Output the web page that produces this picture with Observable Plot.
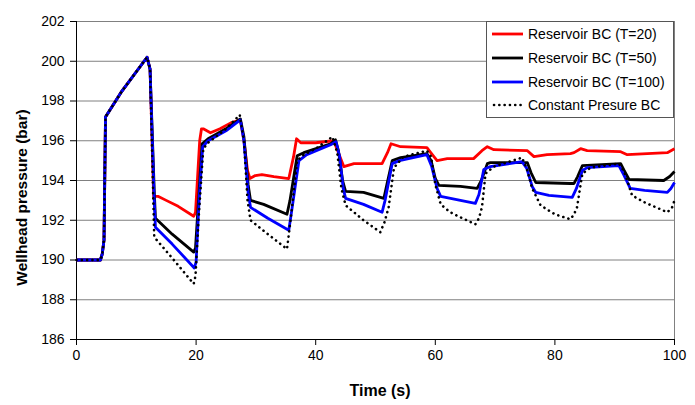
<!DOCTYPE html>
<html>
<head>
<meta charset="utf-8">
<script src="https://cdn.jsdelivr.net/npm/d3@7"></script>
<script src="https://cdn.jsdelivr.net/npm/@observablehq/plot@0.6"></script>
<style>
  html, body { margin: 0; padding: 0; background: #fff; }
  #wrap { position: relative; width: 695px; height: 405px; font-family: "Liberation Sans", Arial, sans-serif; }
  #legend { position: absolute; left: 486px; top: 21px; width: 186px; height: 95px; border: 1px solid #555; background: #fff; box-sizing: content-box; }
  .row { position: absolute; left: 0; height: 20px; display: flex; align-items: center; font-size: 14px; color: #000; white-space: nowrap; }
  .row svg { margin-left: 5px; margin-right: 5px; }
</style>
</head>
<body>
<div id="wrap"></div>
<script>
// ---- data ----
const xTicks = [0, 20, 40, 60, 80, 100];
const yTicks = [186, 188, 190, 192, 194, 196, 198, 200, 202];
const seriesNames = ["Reservoir BC (T=20)", "Reservoir BC (T=50)", "Reservoir BC (T=100)", "Constant Presure BC"];

const resT20 = [[0,190],[4,190],[4.3,190.3],[4.6,191],[4.85,197.2],[7.6,198.5],[11.8,200.2],[12.3,199.6],[12.9,193.2],[13.7,193.2],[15,193.0],[17,192.7],[19.6,192.2],[19.9,192.4],[20.6,196.0],[20.9,196.6],[21.2,196.6],[22.4,196.4],[24,196.6],[25.8,196.9],[27.4,197.05],[28.0,196.0],[28.6,194.5],[29.0,194.1],[29.9,194.25],[31,194.3],[33,194.2],[35.5,194.1],[36.3,195.2],[36.8,196.1],[37.5,195.9],[40,195.9],[43,196.0],[43.8,195.4],[44.7,194.7],[46.4,194.85],[51.1,194.85],[52.0,195.4],[52.6,195.85],[54.2,195.7],[58.6,195.65],[59.5,195.3],[60.3,195.0],[62,195.1],[66.4,195.1],[67.8,195.5],[68.7,195.7],[69.8,195.55],[75.4,195.5],[76.5,195.2],[78.7,195.3],[82.6,195.35],[83.2,195.4],[84.3,195.6],[85.4,195.5],[91,195.45],[92.1,195.3],[98.8,195.4],[100,195.6]];

const resT50 = [[0,190],[4,190],[4.3,190.3],[4.6,191],[4.85,197.2],[7.6,198.5],[11.8,200.2],[12.3,199.6],[13.0,193.5],[13.2,192.1],[16,191.3],[19.6,190.4],[19.9,190.6],[20.4,193],[21.0,195.85],[22,196.1],[25,196.6],[27.4,197.1],[28.0,196.2],[28.7,193.8],[29.1,193.0],[31.3,192.8],[35.2,192.3],[35.7,193],[36.9,195.25],[38,195.4],[42.5,195.85],[43.3,196.05],[43.8,195.5],[44.5,194],[45,193.45],[48,193.4],[51.4,193.1],[51.9,193.8],[52.8,195.0],[54.2,195.15],[58.6,195.35],[59.3,195],[60.0,194.1],[60.6,193.75],[64.2,193.7],[67,193.6],[67.7,194],[68.7,194.85],[69.2,194.9],[75.4,194.9],[76.0,194.4],[76.8,193.9],[82.6,193.85],[83.2,193.85],[83.8,194.2],[84.6,194.75],[91,194.85],[91.6,194.5],[92.4,194.05],[98.2,194.0],[99.2,194.2],[100,194.45]];

const resT100 = [[0,190],[4,190],[4.3,190.3],[4.6,191],[4.85,197.2],[7.6,198.5],[11.8,200.2],[12.3,199.6],[13.0,193.0],[13.2,191.65],[16,190.8],[19.7,189.6],[20.0,189.9],[20.5,193],[21.1,195.7],[22,196.0],[25,196.5],[27.4,197.05],[28.0,196.0],[28.7,193.4],[29.1,192.65],[32,192.1],[35.5,191.5],[36.0,192.5],[37.2,195.0],[38.5,195.3],[42.5,195.8],[43.4,195.95],[44.0,195.2],[44.6,193.6],[45,193.1],[48,192.8],[51.1,192.4],[51.6,193],[52.8,194.85],[54,195.0],[58.6,195.3],[59.4,194.7],[60.3,193.6],[60.9,193.2],[64.2,193.0],[66.7,192.85],[67.3,193.3],[68.1,194.55],[69.2,194.7],[74.5,194.95],[75.3,194.6],[76.2,193.7],[76.8,193.4],[79,193.25],[82.9,193.15],[83.6,193.6],[84.6,194.5],[85.4,194.65],[90.7,194.75],[91.5,194.3],[92.6,193.6],[95,193.5],[98.8,193.4],[99.4,193.6],[100,193.9]];

const constP = [[0,190],[4,190],[4.3,190.3],[4.6,191],[4.85,197.2],[7.6,198.5],[11.8,200.2],[12.3,199.6],[12.8,193.5],[13.0,191.15],[16,190.1],[19.6,188.8],[19.9,189.2],[20.4,192],[21.2,195.6],[22,195.9],[25,196.6],[27.3,197.3],[28.0,196.0],[28.6,193.0],[29.1,192.0],[32,191.3],[35.2,190.55],[35.8,192.0],[36.9,195.0],[38,195.3],[40,195.6],[42.8,196.2],[43.6,195.4],[44.3,193.6],[45,192.75],[48,192.0],[50.8,191.4],[51.5,191.9],[52.2,192.65],[53.1,194.65],[54.7,195.2],[58.6,195.5],[59.3,195.2],[60.0,193.8],[60.9,192.8],[62.5,192.4],[64.2,192.15],[66.7,191.8],[67.3,192.1],[67.8,192.65],[68.4,194.35],[69.8,194.7],[74.5,195.15],[75.3,194.6],[76.2,193.6],[77.6,192.75],[80,192.3],[82.6,192.05],[83.2,192.3],[83.7,192.65],[84.6,194.35],[86,194.65],[90.7,194.85],[91.5,194.5],[92.1,194.0],[92.9,193.25],[95,192.9],[98.8,192.4],[99.6,192.65],[100,193.0]];

// ---- styling ----
const colors = ["#ff0000", "#000000", "#0000ff", "#000000"];
const series = [resT20, resT50, resT100, constP];

const lineMarks = series.map((s, i) => Plot.line(s, {
  x: d => d[0], y: d => d[1],
  stroke: colors[i],
  strokeWidth: i === 3 ? 2.6 : 2.8,
  strokeDasharray: i === 3 ? "0.1 5.2" : null,
  strokeLinecap: i === 3 ? "round" : "butt",
  strokeLinejoin: "round"
}));

const chart = Plot.plot({
  width: 695,
  height: 405,
  marginLeft: 76,
  marginRight: 21,
  marginTop: 21,
  marginBottom: 66,
  style: { fontFamily: "'Liberation Sans', Arial, sans-serif", fontSize: "14px", background: "#fff", color: "#000" },
  x: { domain: [0, 100], label: null },
  y: { domain: [186, 202], label: null },
  marks: [
    Plot.gridY(yTicks, { stroke: "#808080", strokeOpacity: 1, strokeWidth: 1 }),
    Plot.frame({ stroke: "#808080" }),
    Plot.axisX(xTicks, { tickSize: 6, tickPadding: 5, stroke: "#000", fill: "#000", fontSize: 14 }),
    Plot.axisY(yTicks, { tickSize: 6, tickPadding: 6, stroke: "#000", fill: "#000", fontSize: 14 }),
    Plot.ruleX([0], { stroke: "#000" }),
    Plot.ruleY([186], { stroke: "#000" }),
    ...lineMarks,
    Plot.text(["Time (s)"], { frameAnchor: "bottom", dx: 4.5, dy: 51, fontWeight: "bold", fontSize: 16, textAnchor: "middle", lineAnchor: "middle", fill: "#000" }),
    Plot.text(["Wellhead pressure (bar)"], { frameAnchor: "left", dx: -54, dy: 17, rotate: -90, fontWeight: "bold", fontSize: 15.5, textAnchor: "middle", lineAnchor: "middle", fill: "#000" })
  ]
});

const wrap = document.getElementById("wrap");
wrap.appendChild(chart);

// legend
const legend = document.createElement("div");
legend.id = "legend";
const rowCenters = [12, 35.5, 59.5, 83];
seriesNames.forEach((name, i) => {
  const row = document.createElement("div");
  row.className = "row";
  row.style.top = (rowCenters[i] - 10) + "px";
  const dash = i === 3 ? 'stroke-dasharray="0.1 5.2" stroke-linecap="round"' : '';
  row.innerHTML = `<svg width="31" height="6"><line x1="${i===3?2:0}" y1="3" x2="31" y2="3" stroke="${colors[i]}" stroke-width="${i===3?2.6:2.8}" ${dash}/></svg><span>${name}</span>`;
  legend.appendChild(row);
});
wrap.appendChild(legend);
</script>
</body>
</html>
